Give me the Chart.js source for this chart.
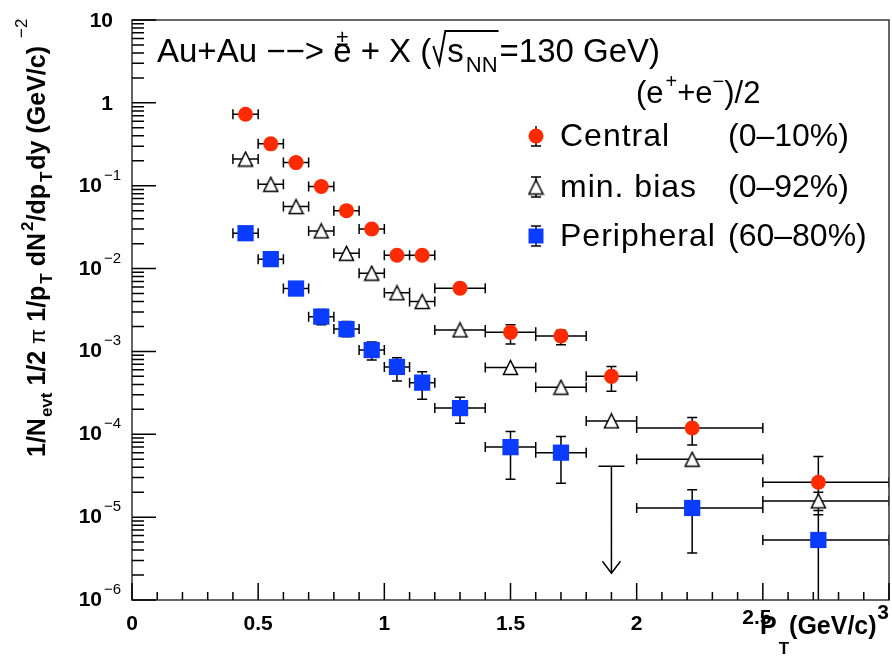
<!DOCTYPE html>
<html>
<head>
<meta charset="utf-8">
<script src="https://cdn.jsdelivr.net/npm/chart.js@4.4.1/dist/chart.umd.min.js"></script>
<style>
  html, body { margin: 0; padding: 0; background: #fff; }
  canvas { display: block; }
</style>
</head>
<body>
<canvas id="spectrum" width="892" height="661"></canvas>
<script>
// p_T bins (GeV/c)
const ptCenter = [0.45, 0.55, 0.65, 0.75, 0.85, 0.95, 1.05, 1.15, 1.3, 1.5, 1.7, 1.9, 2.22, 2.72];
const ptLow    = [0.4, 0.5, 0.6, 0.7, 0.8, 0.9, 1.0, 1.1, 1.2, 1.4, 1.6, 1.8, 2.0, 2.5];
const ptHigh   = [0.5, 0.6, 0.7, 0.8, 0.9, 1.0, 1.1, 1.2, 1.4, 1.6, 1.8, 2.0, 2.5, 3.0];

// Central (0-10%)
const central   = [0.73, 0.32, 0.19, 0.098, 0.050, 0.030, 0.0145, 0.0145, 0.0058, 0.0017, 0.00154, 5.0e-4, 1.19e-4, 2.64e-5];
const centralLo = [null, null, null, null, null, null, null, null, null, 1.23e-3, 1.2e-3, 3.3e-4, 7.4e-5, 1.4e-5];
const centralHi = [null, null, null, null, null, null, null, null, null, 2.1e-3, 1.8e-3, 6.6e-4, 1.59e-4, 5.4e-5];

// min. bias (0-92%)
const minBias   = [0.21, 0.104, 0.056, 0.0285, 0.0153, 0.0088, 0.0051, 0.0040, 0.00182, 6.4e-4, 3.7e-4, 1.45e-4, 5.0e-5, 1.57e-5];
const minBiasLo = [null, null, null, null, null, null, null, null, null, null, null, null, null, 1.07e-5];
const minBiasHi = [null, null, null, null, null, null, null, null, null, null, null, null, null, 2.0e-5];

// Peripheral (60-80%), the 1.9 GeV/c bin is an upper limit
const peripheral   = [0.0267, 0.0130, 0.00574, 0.00263, 0.00186, 0.00104, 6.5e-4, 4.2e-4, 2.07e-4, 7.0e-5, 6.0e-5, null, 1.29e-5, 5.3e-6];
const peripheralLo = [null, null, null, 2.1e-3, 1.5e-3, 7.9e-4, 4.4e-4, 2.65e-4, 1.36e-4, 2.87e-5, 2.57e-5, null, 3.7e-6, 1e-7];
const peripheralHi = [null, null, null, 3.2e-3, 2.3e-3, 1.3e-3, 8.4e-4, 5.7e-4, 2.8e-4, 1.08e-4, 9.4e-5, null, 2.14e-5, 1.2e-5];
const limitPt = 1.9;
const limitValue = 4.1e-5;
const limitArrowTo = 2.1e-6;

// axis ticks
const xTickValues = [0, 0.5, 1, 1.5, 2, 2.5, 3];
const xTickLabels = ['0', '0.5', '1', '1.5', '2', '2.5', '3'];
const yTickExponents = [1, 0, -1, -2, -3, -4, -5, -6];

const FONT = '"Liberation Sans", Arial, Helvetica, sans-serif';
const RED = '#ff2a00';
const BLUE = '#0a3cff';

// open triangle marker, centred on its bounding box like ROOT does
function makeTriangle(w, h) {
    const c = document.createElement('canvas');
    c.width = w + 3; c.height = h + 3;
    const g = c.getContext('2d');
    g.fillStyle = '#fff';
    g.strokeStyle = '#000';
    g.lineWidth = 1.5;
    g.beginPath();
    g.moveTo(1.5, h + 1.5);
    g.lineTo(w + 1.5, h + 1.5);
    g.lineTo(w / 2 + 1.5, 1.5);
    g.closePath();
    g.fill();
    g.stroke();
    return c;
}
const triangle = makeTriangle(14, 14);

function points(values) {
    return ptCenter.map((x, i) => ({ x: x, y: values[i] }));
}

function richText(ctx, x, y, parts) {
    for (const p of parts) {
        ctx.font = (p.bold ? 'bold ' : '') + p.size + 'px ' + FONT;
        ctx.fillText(p.t, x + (p.dx || 0), y + (p.dy || 0));
        x += ctx.measureText(p.t).width + (p.dx || 0);
    }
    return x;
}

const errorBars = {
    id: 'errorBars',
    beforeDatasetsDraw(chart) {
        const ctx = chart.ctx, xs = chart.scales.x, ys = chart.scales.y, a = chart.chartArea;
        ctx.save();
        ctx.beginPath();
        ctx.rect(a.left, a.top, a.right - a.left, a.bottom - a.top);
        ctx.clip();
        ctx.strokeStyle = '#000';
        ctx.lineWidth = 1.5;
        const series = [[central, centralLo, centralHi], [minBias, minBiasLo, minBiasHi], [peripheral, peripheralLo, peripheralHi]];
        ctx.beginPath();
        for (const [vals, lo, hi] of series) {
            vals.forEach((v, i) => {
                if (v == null) return;
                const y = ys.getPixelForValue(v);
                const xc = xs.getPixelForValue(ptCenter[i]);
                const x0 = xs.getPixelForValue(ptLow[i]);
                const x1 = xs.getPixelForValue(ptHigh[i]);
                ctx.moveTo(x0, y); ctx.lineTo(x1, y);
                ctx.moveTo(x0, y - 5); ctx.lineTo(x0, y + 5);
                ctx.moveTo(x1, y - 5); ctx.lineTo(x1, y + 5);
                if (lo[i] != null) {
                    const yl = ys.getPixelForValue(lo[i]);
                    const yh = ys.getPixelForValue(hi[i]);
                    ctx.moveTo(xc, yl); ctx.lineTo(xc, yh);
                    ctx.moveTo(xc - 5, yl); ctx.lineTo(xc + 5, yl);
                    ctx.moveTo(xc - 5, yh); ctx.lineTo(xc + 5, yh);
                }
            });
        }
        // upper limit arrow
        const lx = xs.getPixelForValue(limitPt);
        const ly = ys.getPixelForValue(limitValue);
        const la = ys.getPixelForValue(limitArrowTo);
        ctx.moveTo(lx - 13, ly); ctx.lineTo(lx + 13, ly);
        ctx.moveTo(lx, ly); ctx.lineTo(lx, la);
        ctx.moveTo(lx - 9, la - 12); ctx.lineTo(lx, la); ctx.lineTo(lx + 9, la - 12);
        ctx.stroke();
        ctx.restore();
    }
};

const frameAndText = {
    id: 'frameAndText',
    afterDraw(chart) {
        const ctx = chart.ctx, xs = chart.scales.x, ys = chart.scales.y, a = chart.chartArea;
        ctx.save();
        ctx.strokeStyle = '#333';
        ctx.lineWidth = 1.5;
        ctx.strokeRect(a.left, a.top, a.right - a.left, a.bottom - a.top);

        // ticks inside the frame
        ctx.strokeStyle = '#000';
        ctx.beginPath();
        for (let k = -6; k <= 1; k++) {
            const y = ys.getPixelForValue(Math.pow(10, k));
            ctx.moveTo(a.left, y); ctx.lineTo(a.left + 24, y);
            if (k < 1) {
                for (let m = 2; m <= 9; m++) {
                    const ym = ys.getPixelForValue(m * Math.pow(10, k));
                    ctx.moveTo(a.left, ym); ctx.lineTo(a.left + 12, ym);
                }
            }
        }
        for (let i = 0; i <= 30; i++) {
            const x = xs.getPixelForValue(i / 10);
            const len = i % 5 === 0 ? 17 : 8;
            ctx.moveTo(x, a.bottom); ctx.lineTo(x, a.bottom - len);
        }
        ctx.stroke();

        ctx.fillStyle = '#000';
        ctx.textBaseline = 'alphabetic';

        // y tick labels
        yTickExponents.forEach(k => {
            const y = ys.getPixelForValue(Math.pow(10, k));
            ctx.font = 'bold 21px ' + FONT;
            if (k >= 0) {
                ctx.textAlign = 'right';
                ctx.fillText(k === 1 ? '10' : '1', 113, y + 7);
            } else {
                ctx.textAlign = 'right';
                ctx.fillText('10', 102, y + 6);
                ctx.textAlign = 'left';
                ctx.font = '15px ' + FONT;
                ctx.fillText('\u2212' + (-k), 104, y - 6);
            }
        });

        // x tick labels
        ctx.textAlign = 'center';
        ctx.font = 'bold 21px ' + FONT;
        xTickValues.forEach((v, i) => {
            let dy = 30;
            if (v === 2.5) dy = 24;
            if (v === 3) dy = 19;
            ctx.fillText(xTickLabels[i], xs.getPixelForValue(v) - (v >= 2.5 ? 6 : 0), a.bottom + dy);
        });

        // x title
        ctx.textAlign = 'left';
        richText(ctx, 760, 634, [
            { t: 'P', size: 25, bold: true },
            { t: 'T', size: 17, bold: true, dy: 20, dx: 2 },
            { t: '(GeV/c)', size: 25, bold: true, dx: 0 }
        ]);

        // y title (rotated)
        ctx.save();
        ctx.translate(45, 457);
        ctx.rotate(-Math.PI / 2);
        richText(ctx, 0, 0, [
            { t: '1/N', size: 25, bold: true },
            { t: 'evt', size: 17, bold: true, dy: 7, dx: 1 },
            { t: ' 1/2 ', size: 25, bold: true },
            { t: '\u03c0', size: 22 },
            { t: ' 1/p', size: 25, bold: true },
            { t: 'T', size: 17, bold: true, dy: 7, dx: 2 },
            { t: ' dN', size: 25, bold: true },
            { t: '2', size: 17, bold: true, dy: -12, dx: 2 },
            { t: '/dp', size: 25, bold: true },
            { t: 'T', size: 17, bold: true, dy: 7, dx: 2 },
            { t: 'dy (GeV/c)', size: 25, bold: true, dx: 2 },
            { t: '\u22122', size: 17, dy: -18, dx: 8 }
        ]);
        ctx.restore();

        // main title
        let x = richText(ctx, 157, 62, [{ t: 'Au+Au \u2212\u2212> ', size: 33 }]);
        ctx.font = '33px ' + FONT;
        const eW = ctx.measureText('e').width;
        ctx.fillText('e', x, 62);
        ctx.font = '22px ' + FONT;
        ctx.textAlign = 'center';
        ctx.fillText('\u00b1', x + eW / 2, 45);
        ctx.textAlign = 'left';
        x = richText(ctx, x + eW, 62, [{ t: ' + X (', size: 33 }]);
        // square root sign drawn as strokes
        const sx = x + 2;
        x = richText(ctx, sx + 14, 62, [
            { t: 's', size: 33 },
            { t: 'NN', size: 22, dy: 10, dx: 2 }
        ]);
        ctx.lineWidth = 2;
        ctx.beginPath();
        ctx.moveTo(sx, 46); ctx.lineTo(sx + 6, 64); ctx.lineTo(sx + 12, 31); ctx.lineTo(x + 1, 31);
        ctx.stroke();
        richText(ctx, x + 2, 62, [{ t: '=130 GeV)', size: 33 }]);

        // legend
        richText(ctx, 636, 103, [
            { t: '(e', size: 31 },
            { t: '+', size: 20, dy: -15, dx: 2 },
            { t: '+e', size: 31 },
            { t: '\u2212', size: 20, dy: -15 },
            { t: ')/2', size: 31 }
        ]);
        const rows = [
            { y: 136, name: 'Central', range: '(0\u201310%)' },
            { y: 187, name: 'min. bias', range: '(0\u201392%)' },
            { y: 236, name: 'Peripheral', range: '(60\u201380%)' }
        ];
        const mx = 536;
        ctx.lineWidth = 1.5;
        ctx.strokeStyle = '#000';
        rows.forEach((r, i) => {
            ctx.beginPath();
            ctx.moveTo(mx, r.y - 10); ctx.lineTo(mx, r.y + 10);
            ctx.moveTo(mx - 5, r.y + 10); ctx.lineTo(mx + 5, r.y + 10);
            if (i !== 0) { ctx.moveTo(mx - 5, r.y - 10); ctx.lineTo(mx + 5, r.y - 10); }
            ctx.stroke();
            if (i === 0) {
                ctx.fillStyle = RED;
                ctx.beginPath(); ctx.arc(mx, r.y, 7.5, 0, Math.PI * 2); ctx.fill();
            } else if (i === 1) {
                ctx.drawImage(triangle, mx - triangle.width / 2, r.y - triangle.height / 2);
            } else {
                ctx.fillStyle = BLUE;
                ctx.fillRect(mx - 7.5, r.y - 7.5, 15, 15);
            }
            ctx.fillStyle = '#000';
            ctx.font = '32px ' + FONT;
            ctx.letterSpacing = '1px';
            ctx.fillText(r.name, 560, r.y + 10);
            ctx.letterSpacing = '0px';
            ctx.fillText(r.range, 728, r.y + 10);
        });
        ctx.restore();
    }
};

new Chart(document.getElementById('spectrum'), {
    type: 'scatter',
    data: {
        datasets: [
            {
                label: 'Central',
                data: points(central),
                pointStyle: 'circle',
                pointRadius: 7.5,
                backgroundColor: RED,
                borderColor: RED,
                borderWidth: 0
            },
            {
                label: 'min. bias',
                data: points(minBias),
                pointStyle: triangle
            },
            {
                label: 'Peripheral',
                data: points(peripheral),
                pointStyle: 'rect',
                pointRadius: 11.5,
                backgroundColor: BLUE,
                borderColor: BLUE,
                borderWidth: 0
            }
        ]
    },
    options: {
        responsive: false,
        animation: false,
        layout: { autoPadding: false, padding: { left: 132, right: 3, top: 20, bottom: 61 } },
        scales: {
            x: { type: 'linear', min: 0, max: 3, display: false },
            y: { type: 'logarithmic', min: 1e-6, max: 10, display: false }
        },
        plugins: {
            legend: { display: false },
            tooltip: { enabled: false }
        }
    },
    plugins: [errorBars, frameAndText]
});
</script>
</body>
</html>
